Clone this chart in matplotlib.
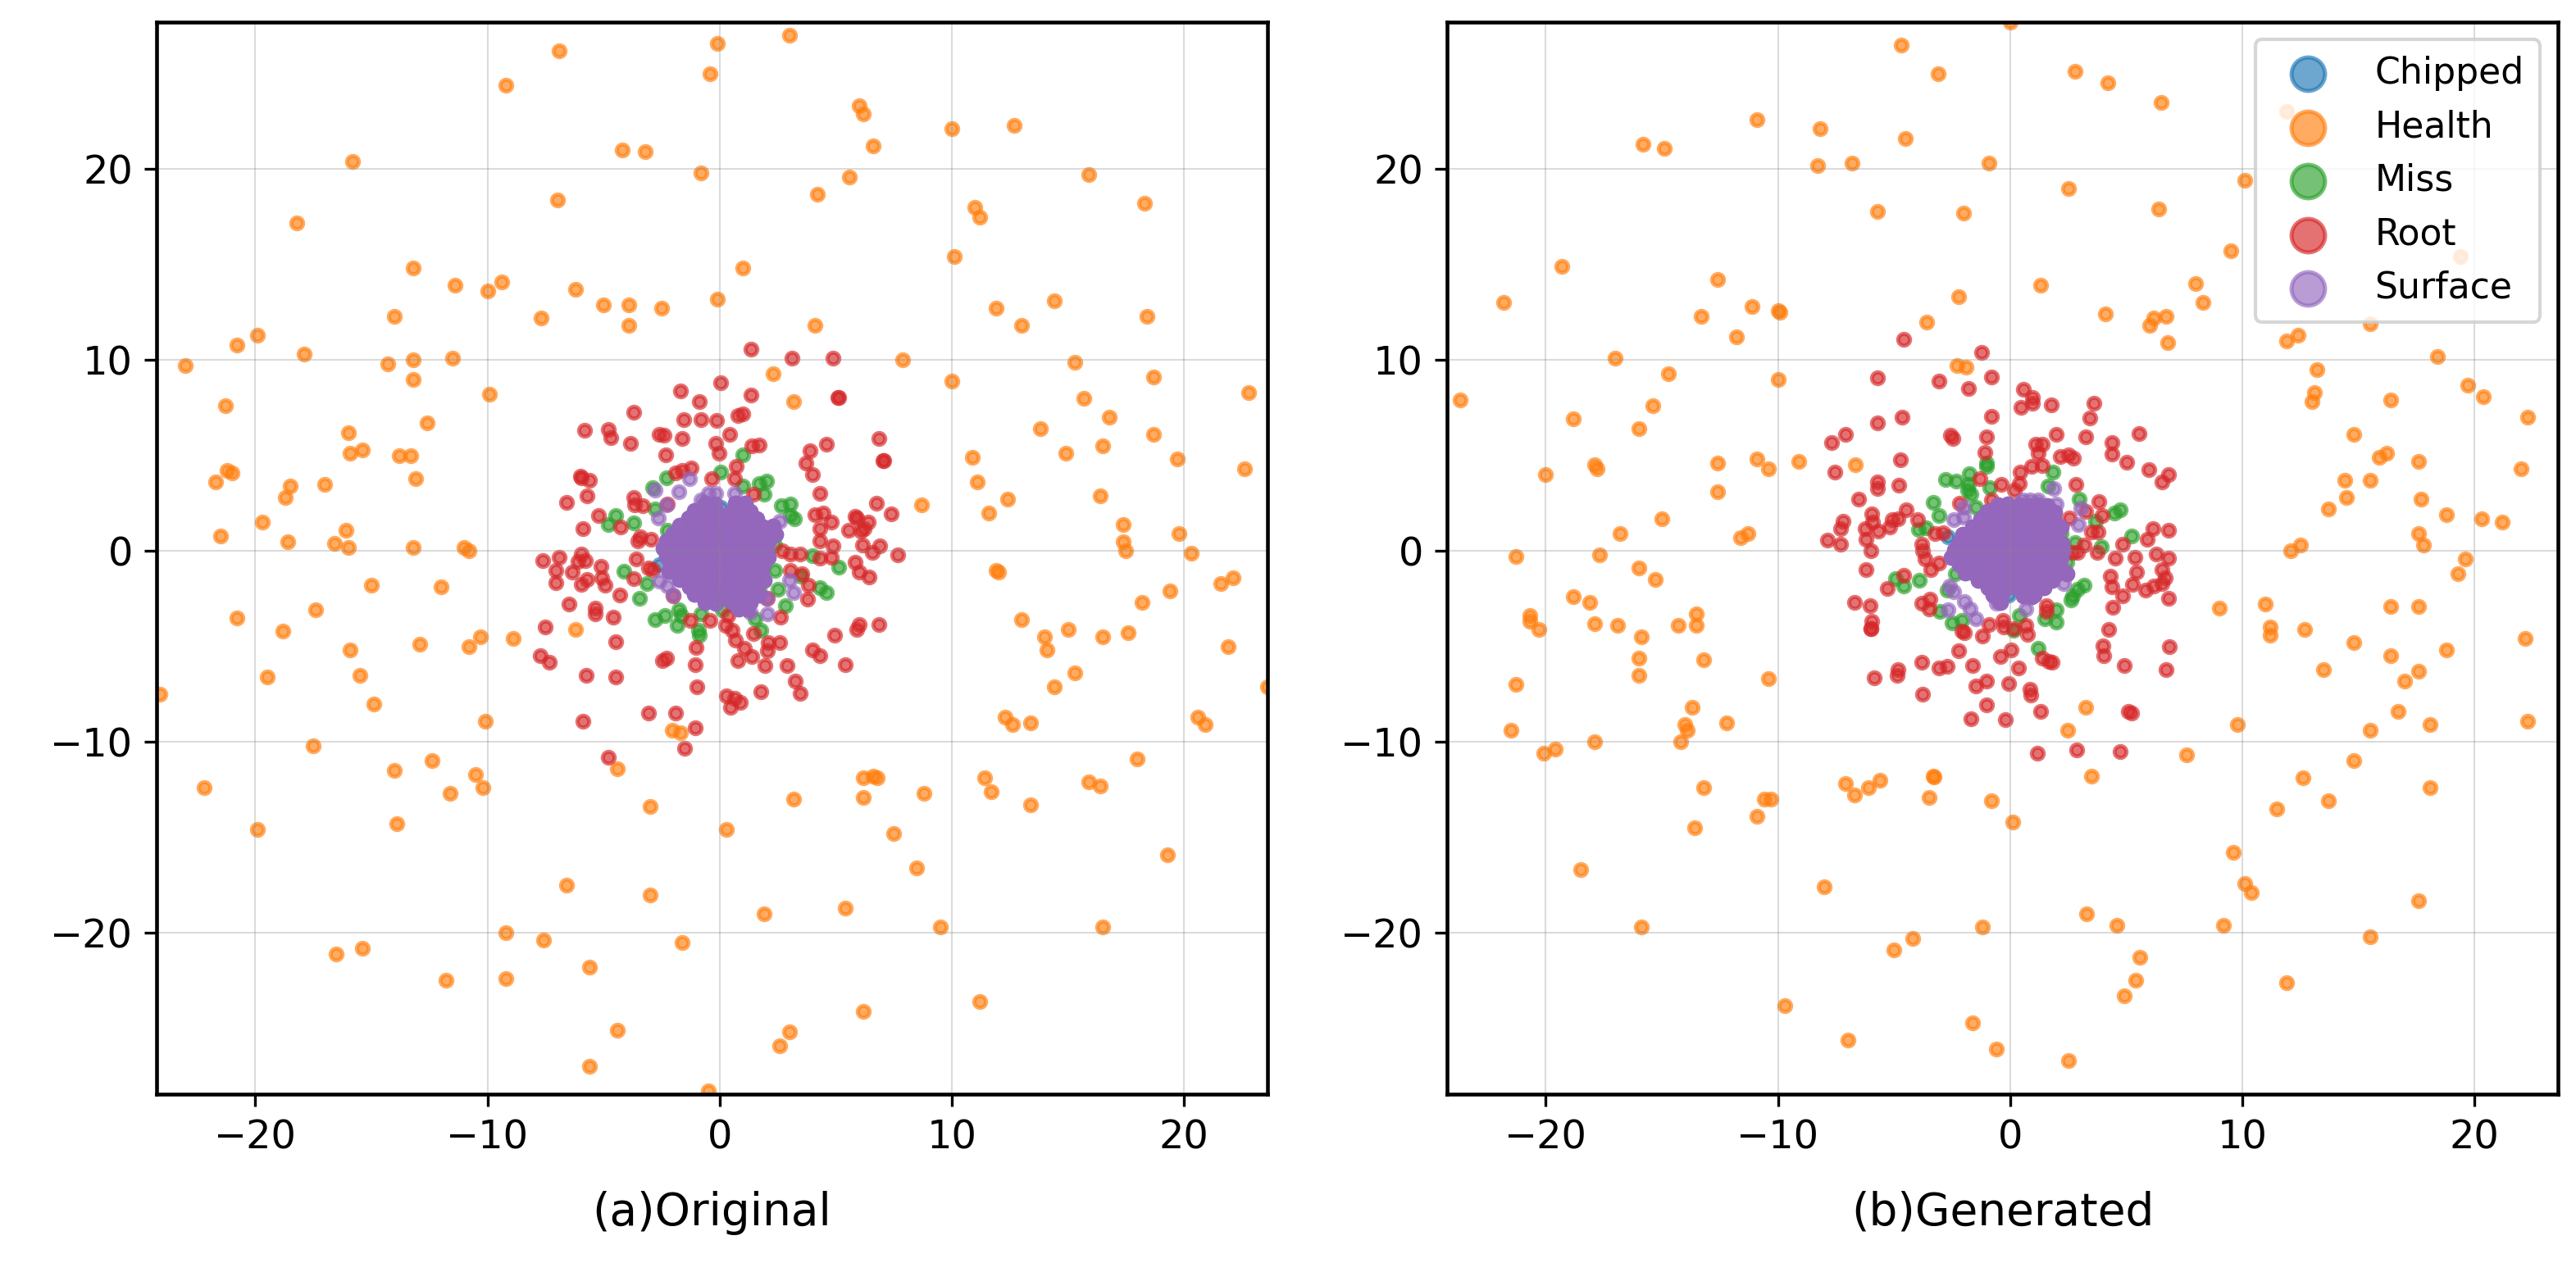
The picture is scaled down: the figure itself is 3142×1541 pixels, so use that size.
import numpy as np
import matplotlib

matplotlib.use("Agg")
import matplotlib.pyplot as plt

# === VALUES (x, y)
# --- (a) Original
chipped_a = [(0.06, 2.3), (-2.6, -0.74), (-1.2, 0.8), (0.2, 1.0), (-0.9, -1.2), (1.0, -0.4)]

health_a = [
    (-23, 9.7), (-22.2, -12.4), (-21.7, 3.6), (-21.2, 4.2), (-21, 4.1), (-21.3, 7.6), (-21.5, 0.8),
    (-20.8, 10.8), (-20.8, -3.5), (-19.9, 11.3), (-19.7, 1.5), (-19.5, -6.6), (-19.9, -14.6),
    (-18.8, -4.2), (-18.7, 2.8), (-18.5, 3.4), (-18.6, 0.5), (-18.2, 17.2), (-17.9, 10.3),
    (-17.5, -10.2), (-17.4, -3.1), (-17, 3.5), (-16.6, 0.4), (-16.5, -21.1), (-16.1, 1.1), (-16, 0.2),
    (-16, 6.2), (-15.9, 5.1), (-15.9, -5.2), (-15.8, 20.4), (-15.4, 5.3), (-15.5, -6.5), (-15.4, -20.8),
    (-15, -1.8), (-14.9, -8), (-14.3, 9.8), (-14, 12.3), (-14, -11.5), (-13.9, -14.3), (-13.8, 5),
    (-13.3, 5), (-13.2, 10), (-13.2, 9), (-13.2, 14.8), (-13.2, 0.2), (-13.1, 3.8), (-12.9, -4.9),
    (-12.6, 6.7), (-12.4, -11), (-12, -1.9), (-11.8, -22.5), (-11.6, -12.7), (-11.5, 10.1), (-11.4, 13.9),
    (-11, 0.2), (-10.8, -5), (-10.8, 0), (-10.5, -11.7), (-10.2, -12.4), (-10.3, -4.5), (-10.1, -8.9),
    (-10, 13.6), (-9.9, 8.2), (-9.4, 14.1), (-8.9, -4.6), (-9.2, -20), (-9.2, -22.4), (-9.2, 24.4),
    (-7.7, 12.2), (-7.6, -20.4), (-6.9, 26.2), (-7, 18.4), (-6.6, -17.5), (-6.2, 13.7), (-6.2, -4.1),
    (-5.6, -21.8), (-5.6, -27), (-5, 12.9), (-4.4, -11.4), (-4.4, -25.1), (-4.2, 21), (-3.2, 20.9),
    (-3.9, 12.9), (-3.9, 11.8), (-2.5, 12.7), (-3, -13.4), (-3, -18), (-2.05, -9.4), (-1.7, -9.5),
    (-0.8, 19.8), (-0.4, 25), (-0.1, 26.6), (-0.1, 13.2), (1, 14.8), (0.3, -14.6), (1.9, -19),
    (-1.6, -20.5), (-0.5, -28.3), (2.6, -25.9), (3, -25.2), (3, 27), (3.2, -13), (2.3, 9.3), (3.2, 7.8),
    (4.1, 11.8), (4.2, 18.7), (5.6, 19.6), (6, 23.3), (6.2, 22.9), (6.6, 21.2), (5.4, -18.7), (6.2, -11.9),
    (6.2, -12.9), (6.6, -11.8), (6.8, -11.9), (6.2, -24.1), (7.5, -14.8), (7.9, 10), (8.5, -16.6),
    (8.7, 2.4), (8.8, -12.7), (9.5, -19.7), (10, 22.1), (10.1, 15.4), (10, 8.9), (10.9, 4.9), (11, 18),
    (11.2, 17.5), (11.1, 3.6), (11.2, -23.6), (11.4, -11.9), (11.7, -12.6), (11.6, 2), (11.9, 12.7),
    (11.9, -1), (12, -1.1), (12.4, 2.7), (12.3, -8.7), (12.6, -9.1), (12.7, 22.3), (13, 11.8), (13, -3.6),
    (13.4, -9), (13.4, -13.3), (13.8, 6.4), (14, -4.5), (14.1, -5.2), (14.4, 13.1), (14.4, -7.1), (14.9, 5.1),
    (15, -4.1), (15.3, 9.9), (15.3, -6.4), (15.7, 8), (15.9, 19.7), (15.9, -12.1), (16.4, -12.3), (16.5, 5.5),
    (16.5, -19.7), (16.5, -4.5), (16.4, 2.9), (16.8, 7), (17.4, 1.4), (17.4, 0.5), (17.5, 0), (17.6, -4.3),
    (18, -10.9), (18.3, 18.2), (18.4, 12.3), (18.2, -2.7), (18.7, 6.1), (18.7, 9.1), (19.3, -15.9),
    (19.4, -2.1), (19.7, 4.8), (19.8, 0.9), (20.3, -0.1), (20.6, -8.7), (20.9, -9.1), (21.6, -1.7),
    (21.9, -5), (22.1, -1.4), (22.6, 4.3), (22.8, 8.3), (23.6, -7.1), (-24.1, -7.5),
]

miss_a = [
    (-2.9, 3.3), (-2.3, 3.84), (0.03, 4.13), (1, 5.05), (1.7, 3.55), (2.03, 3.65), (1.9, 2.95), (2.65, 2.36),
    (3.06, 2.44), (3.24, 1.67), (3.06, 1.85), (-4.47, 1.85), (-4.8, 1.4), (-3.7, 1.48), (-2.26, 1.1),
    (-2.77, 2.2), (-4.12, -1.06), (-3.12, -1.7), (-3.44, -2.5), (-2.77, -3.6), (-2.36, -3.37), (-1.77, -3.1),
    (-1.65, -3.4), (-1.83, -3.9), (-0.82, -3.3), (-0.92, -4.14), (-0.88, -4.43), (2.36, -1), (4, -0.27),
    (5.12, -0.86), (4.3, -1.92), (4.6, -2.19), (2.83, -2.88), (1.77, -4.17), (1.53, -3.55), (1.7, -2),
    (2.53, -2), (2.36, 0.3), (0.12, -3.1), (1, 3.4), (-1.24, 0.74), (3.5, -1.33), (0.2, 0.7), (0.1, -2.4),
]

root_a = [
    (1.35, 10.56), (3.1, 10.1), (4.9, 10.1), (0.06, 8.8), (-1.7, 8.4), (1.35, 8.15), (5.1, 8.05), (5.12, 8.02),
    (-0.87, 7.8), (-3.7, 7.25), (-1.53, 6.87), (-0.8, 6.87), (-0.12, 6.82), (0.77, 7.1), (1, 7.16), (-5.8, 6.3),
    (-4.8, 6.35), (-4.7, 5.94), (-3.85, 5.64), (-2.6, 6.1), (-2.4, 6.05), (-1.6, 5.9), (0.45, 6.1), (-0.18, 5.64),
    (-0.02, 5.1), (-2.33, 5.05), (1.4, 5.5), (1.7, 5.54), (4.6, 5.6), (6.87, 5.9), (3.9, 5.24), (3.7, 4.6),
    (4, 4), (7.07, 4.73), (7.05, 4.75), (0.7, 4.43), (-1.9, 4.1), (-1.6, 4.2), (-1.24, 4.36), (-0.35, 3.77),
    (0.65, 3.77), (-5.95, 3.84), (-5.6, 3.7), (-6, 3.9), (-5.7, 2.9), (-6.6, 2.54), (-3.7, 2.8), (-3.65, 2.4),
    (-3.3, 2.36), (-5.2, 1.85), (-5.9, 1.15), (-4.26, 1.26), (4.3, 3), (6.74, 2.5), (7.4, 1.95), (4.1, 1.9),
    (4.45, 2), (4.8, 1.5), (5.83, 1.8), (5.9, 1.74), (6.4, 1.5), (6.24, 1.18), (5.54, 1.1), (6.07, 1.03),
    (4.3, 1.15), (4.32, 0.52), (4.9, 0.27), (6.15, 0.3), (6.9, 0.27), (6.57, -0.07), (7.66, -0.22), (2.7, 0),
    (3.06, -0.15), (3.47, -0.18), (4.3, -0.37), (4.8, -0.32), (5.83, -0.6), (6, -1.1), (6.45, -1.37), (3.04, -1),
    (3.53, -1.18), (3.83, -1.8), (3.8, -2.54), (-3.4, 0.74), (-2.94, 0.6), (-3.53, 0.52), (-3.6, -0.44),
    (-3.06, -0.89), (-2.9, -0.96), (-3.7, -1.45), (-7.63, -0.5), (-6.9, -0.32), (-7.07, -1), (-6.36, -1.1),
    (-7.07, -1.67), (-5.95, -0.15), (-5.77, -0.5), (-6.1, -0.56), (-5.12, -0.8), (-5.06, -1.4), (-4.95, -1.8),
    (-5.95, -1.77), (-5.7, -1.5), (-4.3, -2.3), (-6.5, -2.8), (-5.36, -3), (-5.36, -3.3), (-4.57, -3.47),
    (-7.5, -4), (-4.47, -4.75), (-7.74, -5.5), (-7.34, -5.83), (-5.75, -6.53), (-4.47, -6.6), (-2.47, -5.76),
    (-2.3, -5.6), (-3.06, -8.5), (-1.9, -8.5), (-1.06, -9.28), (-5.9, -8.94), (-4.8, -10.8), (-1.5, -10.34),
    (-1, -5.05), (-1.06, -5.95), (-0.98, -7.1), (-1.26, -3.66), (-0.41, -3.62), (0.35, -3.4), (0.24, -3.9),
    (0.53, -4.14), (0.67, -4.65), (1.06, -5.1), (0.8, -5.73), (1.39, -5.54), (1.45, -4.33), (1.94, -6),
    (2.1, -4.8), (2.06, -5.24), (2.6, -4.8), (2.9, -6), (2.63, -3.47), (4, -5.17), (4.32, -5.5), (4.97, -4.43),
    (5.4, -5.95), (6, -3.84), (5.9, -4.1), (6.87, -3.87), (3.27, -6.8), (3.47, -7.46), (1.77, -7.39), (0.3, -7.6),
    (0.65, -7.7), (0.88, -7.95), (0.47, -8.2), (2.06, -2.5), (-2, -2.36), (1.47, 2.95), (-2.24, 2.44),
]

# Surface: the few points that stand clear of the central cloud
surface_a = [
    (-1.3, 3.77), (-2.77, 3.2), (-1.77, 3.1), (-2.3, 2.4), (-2.63, 1.74), (-2.6, -1.6), (-2.24, -1.85), (-2, -2.3),
    (3, -1.55), (3.18, -2.2), (2.03, -2.5), (2.06, -3.3), (1.3, -3.2), (2.6, 1.55), (2.3, 0.8), (0.65, 3),
    (-0.47, 3), (-0.18, 3), (0.94, 2.36), (-0.8, 2.66),
]

# Surface: central cloud, the marks pile up here so only its extent can be read
surface_core_a = [
    (-0.62, 2.5), (-0.21, 2.46), (0.68, 2.52), (1.12, 2.48),
    (-1.08, 2.13), (-0.63, 2.08), (-0.18, 2.12), (0.52, 2.09), (0.88, 2.14), (1.33, 2.07),
    (-1.32, 1.72), (-0.87, 1.68), (-0.41, 1.73), (0.03, 1.66), (0.42, 1.71), (0.79, 1.69), (1.22, 1.74), (1.61, 1.67),
    (-1.71, 1.32), (-1.28, 1.27), (-0.93, 1.31), (-0.47, 1.28), (-0.12, 1.33), (0.31, 1.26), (0.72, 1.31), (1.08, 1.28),
    (1.52, 1.33), (1.88, 1.27), (2.31, 1.31),
    (-2.02, 0.92), (-1.58, 0.87), (-1.13, 0.91), (-0.69, 0.88), (-0.32, 0.93), (0.12, 0.86), (0.48, 0.91), (0.93, 0.88),
    (1.28, 0.92), (1.72, 0.87), (2.09, 0.91), (2.41, 0.88),
    (-2.28, 0.52), (-1.91, 0.47), (-1.47, 0.51), (-1.12, 0.48), (-0.68, 0.53), (-0.31, 0.47), (0.13, 0.52), (0.48, 0.46),
    (0.92, 0.51), (1.27, 0.48), (1.73, 0.53), (2.08, 0.47),
    (-2.41, 0.12), (-1.98, 0.07), (-1.62, 0.11), (-1.18, 0.08), (-0.82, 0.13), (-0.38, 0.07), (0.02, 0.12), (0.41, 0.06),
    (0.78, 0.11), (1.22, 0.08), (1.58, 0.12), (2.02, 0.07),
    (-2.28, -0.28), (-1.92, -0.33), (-1.48, -0.27), (-1.12, -0.32), (-0.68, -0.28), (-0.32, -0.33), (0.12, -0.27),
    (0.48, -0.32), (0.92, -0.28), (1.28, -0.33), (1.72, -0.27), (2.08, -0.32),
    (-2.12, -0.68), (-1.68, -0.73), (-1.32, -0.67), (-0.88, -0.72), (-0.52, -0.68), (-0.08, -0.73), (0.28, -0.67),
    (0.72, -0.72), (1.08, -0.68), (1.52, -0.73), (1.88, -0.67),
    (-2.18, -1.08), (-1.82, -1.13), (-1.38, -1.07), (-1.02, -1.12), (-0.58, -1.08), (-0.22, -1.13), (0.22, -1.07),
    (0.58, -1.12), (1.02, -1.08), (1.38, -1.13), (1.82, -1.07),
    (-1.72, -1.48), (-1.28, -1.53), (-0.92, -1.47), (-0.48, -1.52), (-0.12, -1.48), (0.32, -1.53), (0.68, -1.47),
    (1.12, -1.52), (1.48, -1.48), (1.92, -1.53),
    (-1.28, -1.88), (-0.92, -1.93), (-0.48, -1.87), (-0.12, -1.92), (0.32, -1.88), (0.68, -1.93), (1.12, -1.87), (1.48, -1.92),
    (-1.08, -2.28), (-0.72, -2.33), (-0.28, -2.27), (0.12, -2.32), (0.48, -2.28), (0.92, -2.33), (1.28, -2.27), (1.72, -2.32),
    (-0.62, -2.68), (-0.18, -2.73), (0.52, -2.67), (0.88, -2.72), (1.32, -2.68), (0.82, -3.02), (1.18, -3.03),
]

# --- (b) Generated
chipped_b = [(-2.66, 0.74), (-0.08, -2.29), (-1.3, -0.74), (0.5, 0.9), (1.1, -0.6), (-0.4, 1.3)]

health_b = [
    (-23.7, 7.9), (-21.8, 13), (-21.3, -0.3), (-21.5, -9.4), (-21.3, -7), (-19.3, 14.9), (-18.8, -2.4),
    (-20.7, -3.4), (-20.7, -3.7), (-20, 4), (-20.3, -4.1), (-20.1, -10.6), (-19.6, -10.4), (-18.8, 6.9),
    (-18.5, -16.7), (-18.1, -2.7), (-17.9, -3.8), (-17.9, 4.5), (-17.8, 4.3), (-17.9, -10), (-17.7, -0.2),
    (-16.8, 0.9), (-17, 10.1), (-16.9, -3.9), (-16, -0.9), (-15.9, -4.5), (-16, -5.6), (-16, -6.5), (-16, 6.4),
    (-15.8, 21.3), (-14.9, 21.1), (-15.9, -19.7), (-15.3, -1.5), (-15.4, 7.6), (-15, 1.7), (-14.7, 9.3),
    (-14.3, -3.9), (-14.2, -10), (-13.9, -9.4), (-14, -9.1), (-13.7, -8.2), (-13.5, -3.3), (-13.5, -3.9),
    (-13.6, -14.5), (-13.3, 12.3), (-13.2, -5.7), (-13.2, -12.4), (-12.6, 14.2), (-12.6, 4.6), (-12.6, 3.1),
    (-12.2, -9), (-11.8, 11.2), (-11.6, 0.7), (-11.3, 0.9), (-11.1, 12.8), (-10.9, 22.6), (-10.9, 4.8),
    (-10.9, -13.9), (-10.6, -13), (-10.3, -13), (-10.4, 4.3), (-10.4, -6.7), (-10, 12.6), (-9.9, 12.5),
    (-10, 8.97), (-9.7, -23.8), (-9.1, 4.7), (-8.2, 22.1), (-8.3, 20.2), (-8, -17.6), (-7.1, -12.2),
    (-6.7, -12.8), (-6.1, -12.4), (-7, -25.6), (-6.8, 20.3), (-6.65, 4.53), (-5.7, 17.8), (-5.6, -12),
    (-5, -20.9), (-4.2, -20.3), (-4.7, 26.5), (-4.5, 21.6), (-3.6, 12), (-3.5, -12.9), (-3.3, -11.8),
    (-3.28, -11.85), (-3.1, 25), (-2.2, 13.3), (-2, 17.7), (-2.29, 9.7), (-1.9, 9.63), (-1.6, -24.7),
    (-1.2, -19.7), (-0.8, -13.1), (-0.9, 20.3), (-0.6, -26.1), (0, 27.7), (0.1, -14.2), (1.3, 13.9),
    (2.5, 19), (2.5, -26.7), (2.8, 25.1), (3.3, -19), (3.5, -11.8), (3.26, -8.2), (2.48, -9.38), (4.1, 12.4),
    (4.2, 24.5), (4.6, -19.6), (4.9, -23.3), (5.4, -22.5), (5.6, -21.3), (6, 11.8), (6.2, 12.2), (6.4, 17.9),
    (6.5, 23.5), (6.7, 12.3), (6.8, 10.9), (7.6, -10.7), (8, 14), (8.3, 13), (9.2, -19.6), (9.5, 15.7),
    (9.8, -9.1), (9.6, -15.8), (10.1, 19.4), (9, -3), (10.1, -17.4), (10.4, -17.9), (11, -2.8), (11.2, -4.4),
    (11.2, -4.0), (11.9, 11), (11.9, 23), (11.9, -22.6), (11.5, -13.5), (12.4, 11.3), (12.1, 0), (12.5, 0.3),
    (12.6, -11.9), (12.7, -4.1), (13, 7.8), (13.1, 8.3), (13.2, 9.5), (13.5, -6.2), (13.7, 2.2), (13.7, -13.1),
    (14.5, 2.8), (14.4, 3.7), (14.8, -4.8), (14.8, 6.1), (14.8, -11), (15.5, 3.7), (15.5, 11.9), (15.5, -9.4),
    (15.5, -20.2), (15.9, 4.9), (16.2, 5.1), (16.4, 7.9), (16.4, -2.9), (16.4, -5.5), (16.7, -8.4), (17, -6.8),
    (17.6, -6.3), (17.6, 4.7), (17.6, 0.9), (17.8, 0.3), (17.6, -2.9), (17.6, -18.3), (17.7, 2.7), (18.1, -9.1),
    (18.1, -12.4), (18.4, 10.2), (18.8, 1.9), (18.8, -5.2), (19.3, -1.2), (19.6, -0.4), (19.4, 15.4), (19.7, 8.7),
    (20.3, 1.7), (20.4, 8.1), (21.2, 1.5), (22, 4.3), (22.2, -4.6), (22.3, 7), (22.3, -8.9),
]

miss_b = [
    (-1.02, 4.43), (-1.0, 4.6), (-1.76, 4.06), (-2.78, 3.74), (-2.31, 3.65), (-1.78, 3.47), (-1.67, 2.95), (-1.84, 3.18),
    (-0.87, 3.32), (-1.49, 2.29), (-3.31, 2.56), (-3.08, 1.85), (-3.96, 1.14), (-3.63, 1.21), (1.83, 4.14), (1.62, 3.4),
    (2.97, 2.73), (3.67, 1.55), (4.5, 2), (4.73, 2.14), (5.23, 0.78), (3.91, 0.22), (1.74, 1.85), (2.2, 0.89),
    (2.79, 0.44), (2.44, -0.59), (-4.95, -1.45), (-4.58, -1.85), (-3.92, -1.52), (-2.37, -1.18), (-2.72, -2.07),
    (-3.02, -3.18), (-2.49, -3.77), (-2.08, -3.62), (3.2, -1.8), (2.91, -1.99), (2.68, -2.36), (2.62, -2.58),
    (1.97, -3.1), (2, -3.72), (1.5, -3.55), (0.39, -3.37), (1.21, -5.1), (0.15, -4.14),
]

root_b = [
    (-4.57, 11.1), (-1.23, 10.4), (-5.7, 9.08), (-3.08, 8.9), (-0.81, 9.13), (-1.78, 8.5), (0.56, 8.45), (0.97, 8.05),
    (0.97, 7.75), (0.45, 7.5), (1.77, 7.65), (3.6, 7.75), (3.44, 6.97), (-0.81, 7.06), (-4.66, 7), (-5.7, 6.72),
    (-7.1, 6.09), (-7.7, 5.69), (-2.58, 6.06), (-2.46, 5.88), (-1, 5.98), (-1.08, 5.17), (1.97, 6.09), (3.26, 5.98),
    (5.55, 6.13), (4.38, 5.69), (4.4, 5.07), (5.02, 4.65), (5.96, 4.28), (6.53, 3.62), (6.84, 4), (1.09, 5.6),
    (1.38, 5.6), (1.2, 5.1), (2.15, 4.95), (2.5, 5.02), (2.73, 4.87), (0.92, 4.43), (1.38, 4.46), (0.42, 4.14),
    (0.39, 3.55), (0.2, 3.18), (-0.38, 3.47), (-1.29, 3.77), (-0.79, 2.66), (-2.17, 2.5), (2.82, 3.5), (3.81, 2.6),
    (3.97, 1.85), (3.26, 2.07), (2.56, 1.74), (3.5, 1), (3.79, 1), (3.2, 0.3), (2.9, -0.07), (2.68, -0.07),
    (3.76, -0.07), (4.85, 0.37), (4.52, -0.37), (5.38, -0.32), (5.9, 0.62), (6.16, 1.15), (6.29, -0.15), (6.84, 1.1),
    (6.84, -0.37), (6.55, -0.96), (6.67, -1.4), (4.32, -1.33), (4.38, -1.9), (5.43, -1.1), (5.26, -1.74), (5.82, -2.04),
    (6.2, -1.85), (6.55, -1.7), (4.85, -2.36), (4.41, -2.95), (6.84, -2.5), (4.26, -4.1), (3.99, -4.95), (4.05, -5.47),
    (4.93, -6), (6.7, -6.2), (6.87, -5), (5.08, -8.42), (5.23, -8.5), (2.88, -10.44), (4.73, -10.5), (1.17, -10.6),
    (1.3, -8.39), (0.86, -7.24), (0.89, -7.53), (-0.06, -6.94), (0.35, -6.13), (-1.02, -6.82), (-1.49, -7.09),
    (-1, -8.05), (-1.67, -8.79), (-0.2, -8.83), (-1.6, -6), (-0.43, -5.54), (0.04, -5.2), (-2.23, -5.24), (-3.81, -5.83),
    (-3.08, -6.13), (-2.72, -6.06), (-4.84, -6.2), (-4.86, -6.53), (-5.86, -6.65), (-3.78, -7.5), (-5.97, -3.69),
    (-6, -4.06), (-5.99, -4.08), (-6.03, -2.85), (-6.71, -2.69), (-5.3, -1.95), (-4.58, -1.26), (-3.81, -2.73),
    (-3.45, -2.51), (-3.49, -3.03), (-2.08, -4.21), (-1.96, -4.28), (-1.2, -4.46), (-0.9, -3.84), (-0.32, -3.62),
    (-0.29, -3.99), (0.15, -4.06), (0.68, -3.91), (0.76, -4.36), (1.56, -2.88), (1.56, -3.18), (1.38, -5.61),
    (1.68, -5.8), (1.8, -5.83), (-6.19, -0.96), (-7.85, 0.56), (-7.3, 0.37), (-6, 0), (-6.19, 0.59), (-6.24, 1.15),
    (-5.66, 1.06), (-7.3, 1.18), (-7.2, 1.55), (-5.95, 1.92), (-5.92, 1.5), (-6.51, 2.7), (-7.54, 4.14), (-5.7, 3.62),
    (-5.7, 3.28), (-4.81, 3.44), (-4.72, 4.77), (-5.19, 1.26), (-5.07, 1.65), (-4.84, 1.7), (-4.48, 2.17), (-3.99, 1.62),
    (-3.25, 0.89), (-2.9, 0.96), (-3.81, 0.37), (-3.78, 0), (-3.66, -0.44), (-3.43, -0.96), (-3.08, -0.62),
]

surface_b = [
    (-2.02, 2.29), (-2.43, 1.62), (-2.02, 1.77), (1.88, 3.25), (1.97, 2.44), (3.03, 2.22), (2.93, 1.4), (2.32, -0.96),
    (2.32, -1.7), (-2.6, -1.85), (-2.43, -2.14), (-1.96, -2.66), (-1.73, -3.03), (-1.47, -3.55), (-2.66, -3.1),
    (0.68, -3.03), (-0.61, -2.73), (0.86, 2.66), (1.2, 2.66), (0.55, 2.66),
]

surface_core_b = [
    (-0.52, 2.41), (-0.11, 2.46), (0.38, 2.42), (0.81, 2.38), (1.21, 2.43), (1.58, 2.36),
    (-0.98, 2.07), (-0.58, 2.02), (-0.12, 2.06), (0.31, 2.01), (0.72, 2.07), (1.13, 2.02), (1.52, 2.06), (1.91, 2.01),
    (-1.28, 1.67), (-0.88, 1.62), (-0.47, 1.66), (-0.08, 1.61), (0.33, 1.67), (0.72, 1.62), (1.13, 1.66), (1.52, 1.61), (1.88, 1.67),
    (-1.61, 1.27), (-1.22, 1.22), (-0.83, 1.26), (-0.42, 1.21), (-0.03, 1.27), (0.38, 1.22), (0.77, 1.26), (1.18, 1.21),
    (1.57, 1.27), (1.98, 1.22), (2.18, 1.26),
    (-2.03, 0.87), (-1.62, 0.82), (-1.23, 0.86), (-0.82, 0.81), (-0.43, 0.87), (-0.02, 0.82), (0.37, 0.86), (0.78, 0.81),
    (1.17, 0.87), (1.58, 0.82), (1.97, 0.86),
    (-2.18, 0.47), (-1.77, 0.42), (-1.38, 0.46), (-0.97, 0.41), (-0.58, 0.47), (-0.17, 0.42), (0.22, 0.46), (0.63, 0.41),
    (1.02, 0.47), (1.43, 0.42), (1.82, 0.46), (2.22, 0.41),
    (-2.41, 0.07), (-2.02, 0.02), (-1.63, 0.06), (-1.22, 0.01), (-0.83, 0.07), (-0.42, 0.02), (-0.03, 0.06), (0.38, 0.01),
    (0.77, 0.07), (1.18, 0.02), (1.57, 0.06), (1.98, 0.01), (2.28, 0.04),
    (-2.53, -0.33), (-2.12, -0.38), (-1.73, -0.34), (-1.32, -0.39), (-0.93, -0.33), (-0.52, -0.38), (-0.13, -0.34), (0.28, -0.39),
    (0.67, -0.33), (1.08, -0.38), (1.47, -0.34), (1.88, -0.39), (2.21, -0.35),
    (-2.18, -0.73), (-1.77, -0.78), (-1.38, -0.74), (-0.97, -0.79), (-0.58, -0.73), (-0.17, -0.78), (0.22, -0.74), (0.63, -0.79),
    (1.02, -0.73), (1.43, -0.78), (1.82, -0.74), (2.12, -0.79),
    (-1.93, -1.13), (-1.52, -1.18), (-1.13, -1.14), (-0.72, -1.19), (-0.33, -1.13), (0.08, -1.18), (0.47, -1.14), (0.88, -1.19),
    (1.27, -1.13), (1.68, -1.18), (2.07, -1.14), (2.44, -1.18),
    (-1.38, -1.53), (-0.97, -1.58), (-0.58, -1.54), (-0.17, -1.59), (0.22, -1.53), (0.63, -1.58), (1.02, -1.54), (1.43, -1.59), (1.82, -1.53),
    (-0.93, -1.93), (-0.52, -1.98), (-0.13, -1.94), (0.38, -1.99), (0.67, -1.93), (1.08, -1.98), (1.47, -1.94),
    (-0.72, -2.33), (-0.38, -2.38), (-0.42, -2.68), (0.58, -2.34), (0.93, -2.38), (1.02, -2.3),
]

class_names = ["Chipped", "Health", "Miss", "Root", "Surface"]
class_colors = ["tab:blue", "tab:orange", "tab:green", "tab:red", "tab:purple"]
ticks = [-20, -10, 0, 10, 20]

panels = [
    ("(a)Original", [chipped_a, health_a, miss_a, root_a, surface_a], surface_core_a, [191, 1546]),
    ("(b)Generated", [chipped_b, health_b, miss_b, root_b, surface_b], surface_core_b, [1765, 3120]),
]

# === DRAW
W, H = 3142, 1541
fig = plt.figure(figsize=((W + 0.1) / 300, (H + 0.1) / 300), dpi=300)

for title, series, core, (px0, px1) in panels:
    ax = fig.add_axes([px0 / W, 1 - 1335 / H, (px1 - px0) / W, (1335 - 27) / H])
    for name, colour, points in zip(class_names, class_colors, series):
        points = np.array(points)
        ax.scatter(points[:, 0], points[:, 1], s=12, c=colour, alpha=0.65, linewidths=1.2, label=name)
    # Cloud is nearly opaque in the reference, many marks sit on top of each other
    core = np.array(core)
    for layer in range(4):
        ax.scatter(core[:, 0], core[:, 1], s=12, c="tab:purple", alpha=0.65, linewidths=1.2)
    ax.set_xlim(-24.25, 23.6)
    ax.set_ylim(-28.45, 27.7)
    ax.set_xticks(ticks)
    ax.set_yticks(ticks)
    ax.tick_params(labelsize=11.5, length=3.5, width=0.8)
    ax.grid(alpha=0.3, linewidth=0.5, color="#888888")
    ax.set_xlabel(title, fontsize=13.2, labelpad=10)
    for spine in ax.spines.values():
        spine.set_linewidth(1.1)

# Legend only on the right panel
ax.legend(
    loc="upper right",
    bbox_to_anchor=(0.984, 0.984),
    fontsize=10.6,
    markerscale=2.83,
    borderpad=0.45,
    labelspacing=0.51,
    handletextpad=0.85,
    borderaxespad=0,
)

plt.savefig("out.png", dpi=300)
